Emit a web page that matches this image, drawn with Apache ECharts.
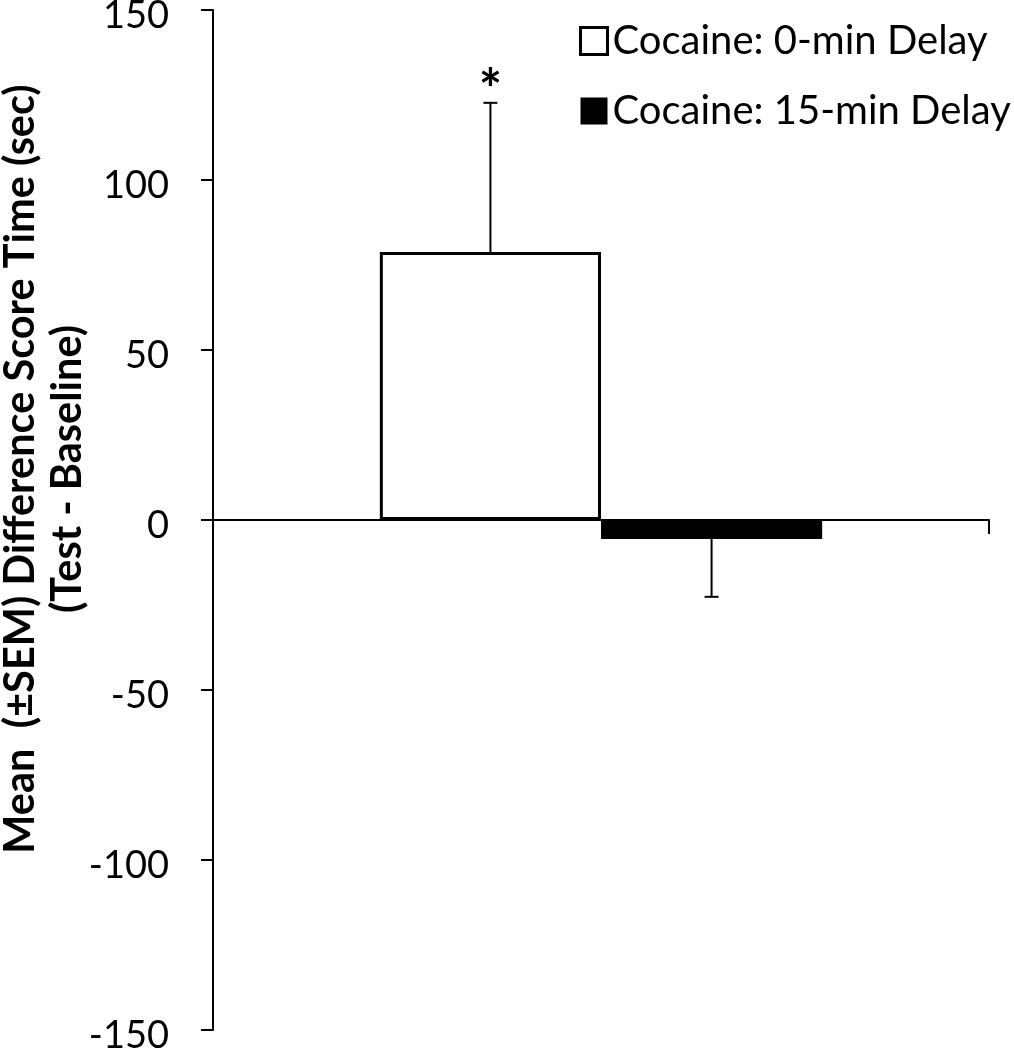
<!DOCTYPE html>
<html>
<head>
<meta charset="utf-8">
<script src="https://cdn.jsdelivr.net/npm/echarts@6/dist/echarts.min.js"></script>
<style>html,body{margin:0;padding:0;background:#fff}#c{width:1014px;height:1050px}</style>
</head>
<body>
<div id="c"></div>
<script>
const categories = [''];
const seriesNames = ['Cocaine: 0-min Delay', 'Cocaine: 15-min Delay'];
const means = [78.8, -5.6];
const sems = [43.9, 17.0];
const errDirection = [1, -1];
const sigMarks = ['*', ''];
const yTicks = [-150, -100, -50, 0, 50, 100, 150];
const yTitle = 'Mean  (\u00B1SEM) Difference Score Time (sec)\n(Test - Baseline)';

const FONT = 'Lato';
const GAP = 0.43;

const chart = echarts.init(document.getElementById('c'), null, {renderer: 'canvas'});

const errData = means.map((m, i) => [0, m, m + errDirection[i] * sems[i], i]);

const option = {
  backgroundColor: '#fff',
  animation: false,
  grid: {left: 213, right: 25, top: 10, bottom: 20, containLabel: false, outerBoundsMode: 'none'},
  legend: {
    orient: 'vertical',
    left: 574,
    top: 15,
    icon: 'rect',
    itemWidth: 27,
    itemHeight: 27,
    itemGap: 28,
    itemTextGap: 13,
    selectedMode: false,
    textStyle: {fontFamily: FONT, fontSize: 40, color: '#000', lineHeight: 42},
    data: [
      {name: seriesNames[0], itemStyle: {color: '#fff', borderColor: '#000', borderWidth: 3}},
      {name: seriesNames[1], itemStyle: {color: '#000', borderWidth: 0}}
    ]
  },
  xAxis: {
    type: 'category',
    data: categories,
    axisLine: {onZero: true, lineStyle: {color: '#000', width: 2}},
    axisTick: {show: true, length: 14, lineStyle: {color: '#000', width: 2}},
    axisLabel: {show: false},
    splitLine: {show: false}
  },
  yAxis: {
    type: 'value',
    min: yTicks[0],
    max: yTicks[yTicks.length - 1],
    interval: 50,
    name: yTitle,
    nameLocation: 'middle',
    nameRotate: 90,
    nameGap: 122,
    nameMoveOverlap: false,
    nameTextStyle: {fontFamily: FONT, fontSize: 41.5, fontWeight: 'bold', color: '#000', lineHeight: 47, padding: [0, 0, 0, 102]},
    axisLine: {show: true, lineStyle: {color: '#000', width: 2}},
    axisTick: {show: true, length: 12, lineStyle: {color: '#000', width: 2}},
    axisLabel: {fontFamily: FONT, fontSize: 38, color: '#000', margin: 44, verticalAlign: 'top', lineHeight: 12},
    splitLine: {show: false}
  },
  series: [
    {
      name: seriesNames[0],
      type: 'bar',
      data: [means[0]],
      barGap: '0%',
      barCategoryGap: (GAP * 100) + '%',
      itemStyle: {color: '#fff', borderColor: '#000', borderWidth: 3},
      z: 2
    },
    {
      name: seriesNames[1],
      type: 'bar',
      data: [means[1]],
      barGap: '0%',
      barCategoryGap: (GAP * 100) + '%',
      itemStyle: {color: '#000', borderColor: '#000', borderWidth: 0},
      z: 2
    },
    {
      type: 'custom',
      name: 'err',
      data: errData,
      encode: {x: 0, y: [1, 2]},
      z: 5,
      renderItem: function (params, api) {
        const cat = api.value(0), m = api.value(1), end = api.value(2), k = api.value(3);
        const band = api.size([1, 0])[0];
        const bw = band * (1 - GAP) / 2;
        const cx = api.coord([cat, 0])[0] + (k - 0.5) * bw;
        const y1 = api.coord([cat, m])[1];
        const y2 = api.coord([cat, end])[1];
        const style = {stroke: '#000', lineWidth: 2};
        const children = [
          {type: 'line', shape: {x1: cx, y1: y1, x2: cx, y2: y2}, style: style},
          {type: 'line', shape: {x1: cx - 7, y1: y2, x2: cx + 7, y2: y2}, style: style}
        ];
        const s = sigMarks[k];
        if (s) {
          children.push({type: 'text', x: cx, y: y2 - 12, style: {text: s, fontFamily: FONT, fontWeight: 'bold', fontSize: 55, fill: '#000', align: 'center', verticalAlign: 'middle'}});
        }
        return {type: 'group', children: children};
      }
    }
  ]
};
chart.setOption(option);
</script>
</body>
</html>
